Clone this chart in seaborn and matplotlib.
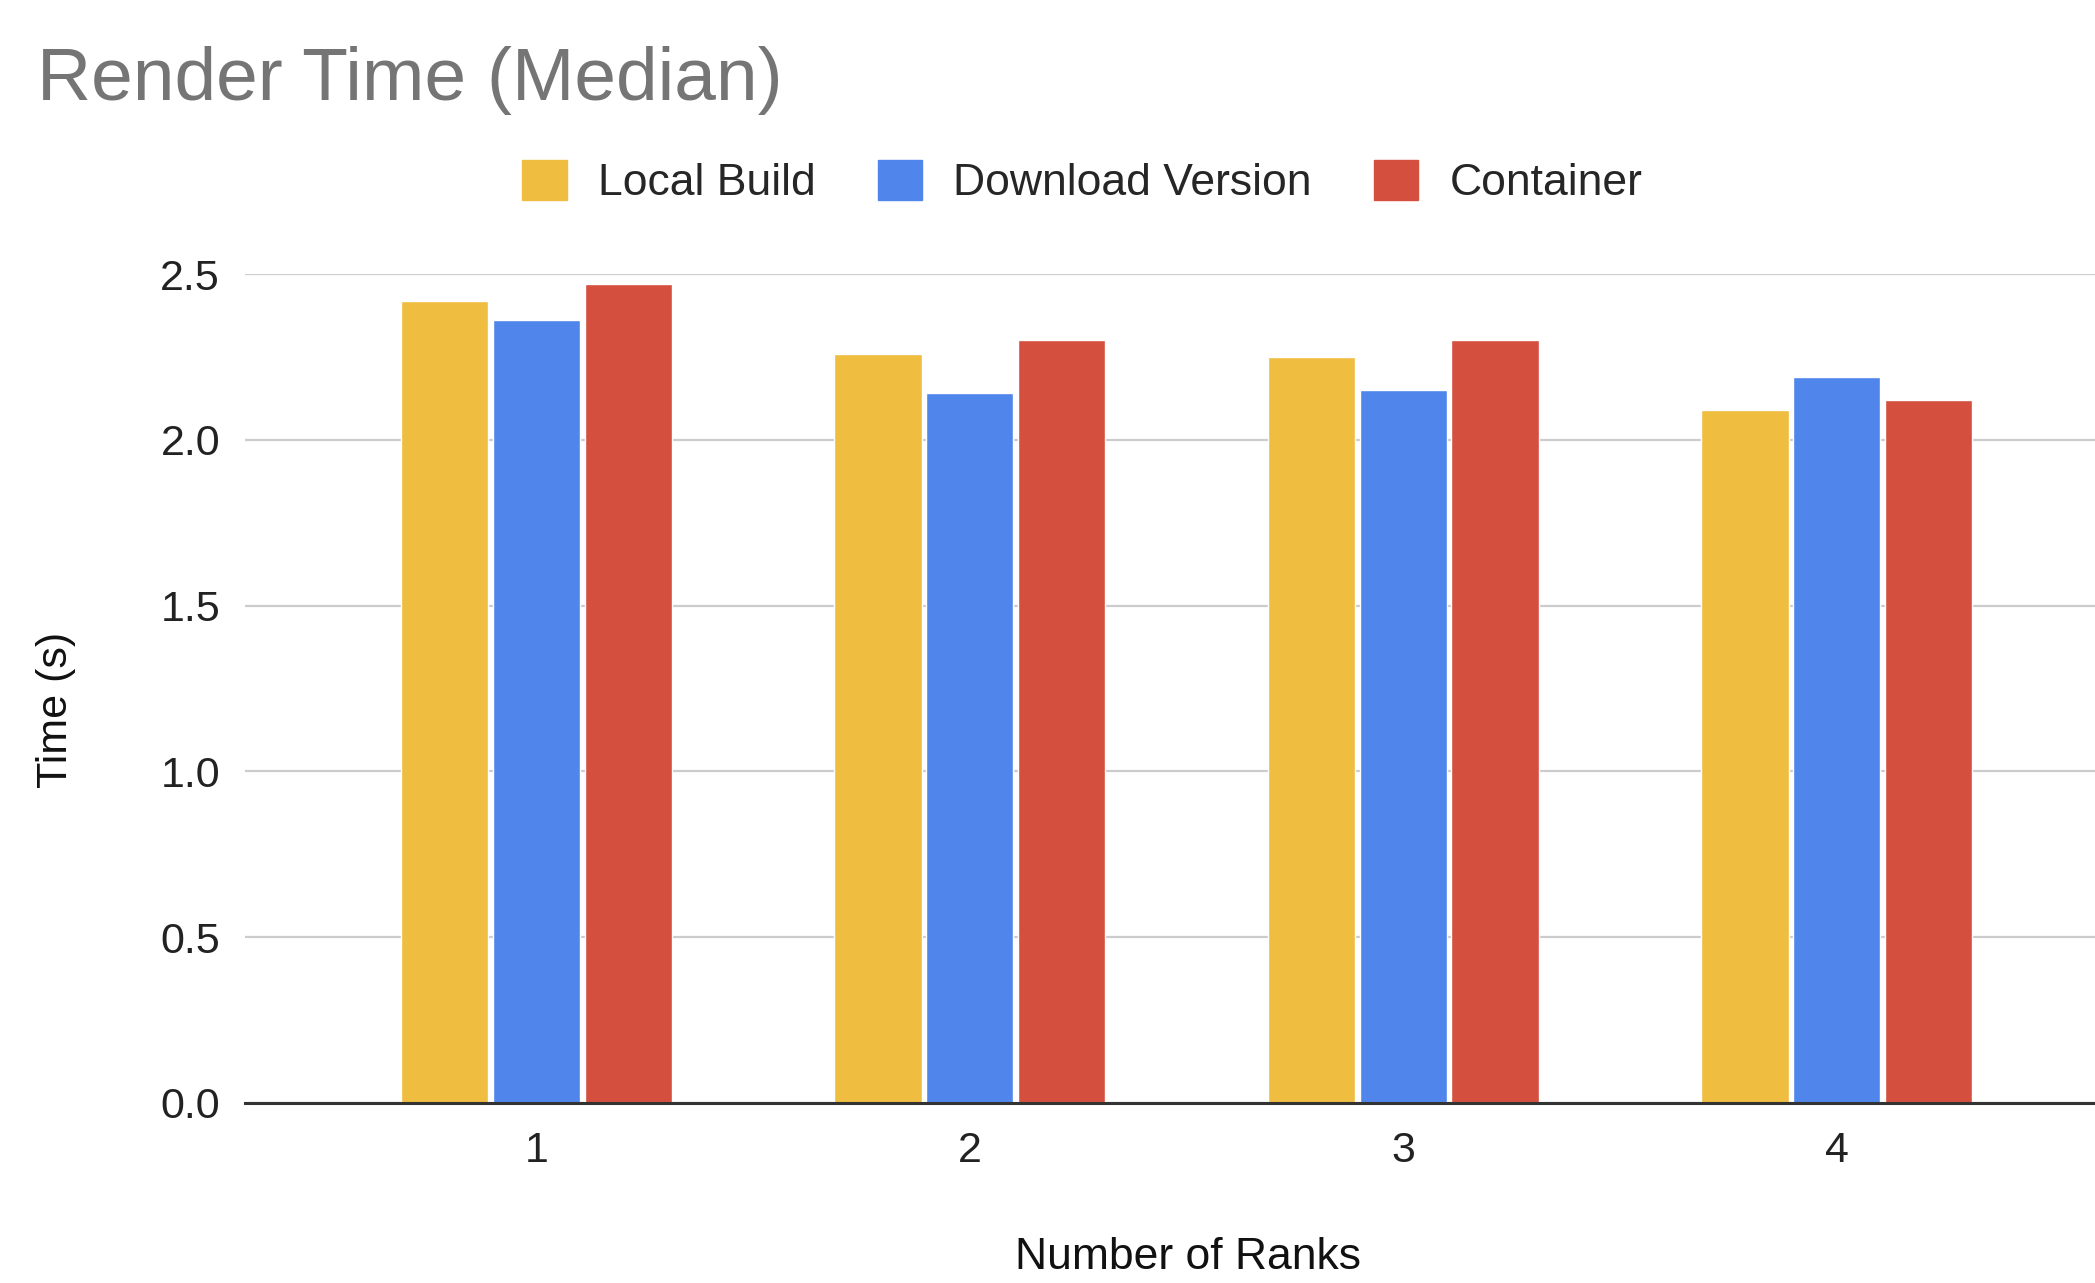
import numpy as np
import pandas as pd
import matplotlib.pyplot as plt
import seaborn as sns

# values
ranks = ["1", "2", "3", "4"]
local_build = [2.42, 2.26, 2.25, 2.09]
download_version = [2.36, 2.14, 2.15, 2.19]
container = [2.47, 2.30, 2.30, 2.12]
series_names = ["Local Build", "Download Version", "Container"]
colors = ["#EFBD40", "#5086EC", "#D44F3E"]
y_ticks = [0.0, 0.5, 1.0, 1.5, 2.0, 2.5]

df = pd.DataFrame({
    "ranks": ranks * 3,
    "time": local_build + download_version + container,
    "build": np.repeat(series_names, len(ranks)),
})

sns.set_style("white")
plt.rcParams["font.family"] = ["Liberation Sans", "DejaVu Sans"]

fig = plt.figure(figsize=(20.95, 12.83), dpi=100)
ax = fig.add_axes([0.117, 0.1403, 0.883, 0.6461])

sns.barplot(data=df, x="ranks", y="time", hue="build", palette=colors,
            hue_order=series_names, width=0.635, gap=0.05, ax=ax,
            saturation=1, legend=False, zorder=3)

ax.set_ylim(0, 2.5)
ax.set_xlim(-0.672, 3.596)
ax.set_yticks(y_ticks)
ax.set_yticklabels([f"{t:.1f}" for t in y_ticks])
ax.grid(axis="y", color="#cccccc", linewidth=1.6, zorder=0)
ax.set_axisbelow(True)
for s in ["top", "right", "left"]:
    ax.spines[s].set_visible(False)
ax.spines["bottom"].set_color("#333333")
ax.spines["bottom"].set_linewidth(2.2)
ax.spines["bottom"].set_zorder(4)
ax.tick_params(axis="both", length=0, labelsize=31, colors="#222222")
ax.tick_params(axis="x", pad=20)
ax.tick_params(axis="y", pad=18)
ax.set_xlabel("")
ax.set_ylabel("")

fig.text(0.567, 0.0195, "Number of Ranks", ha="center", va="center",
         fontsize=32, color="#111111")
fig.text(0.0267, 0.447, "Time (s)", ha="center", va="center",
         rotation=90, fontsize=31, color="#111111")
fig.text(0.0177, 0.922, "Render Time (Median)", ha="left", va="baseline",
         fontsize=54, color="#757575")

handles = [plt.Rectangle((0, 0), 1, 1, color=c) for c in colors]
fig.legend(handles, series_names, loc="center", bbox_to_anchor=(0.5166, 0.858),
           ncol=3, frameon=False, fontsize=32, handlelength=1.0,
           handleheight=1.0, handletextpad=0.7, columnspacing=1.4)

fig.savefig("out.png", dpi=100)
